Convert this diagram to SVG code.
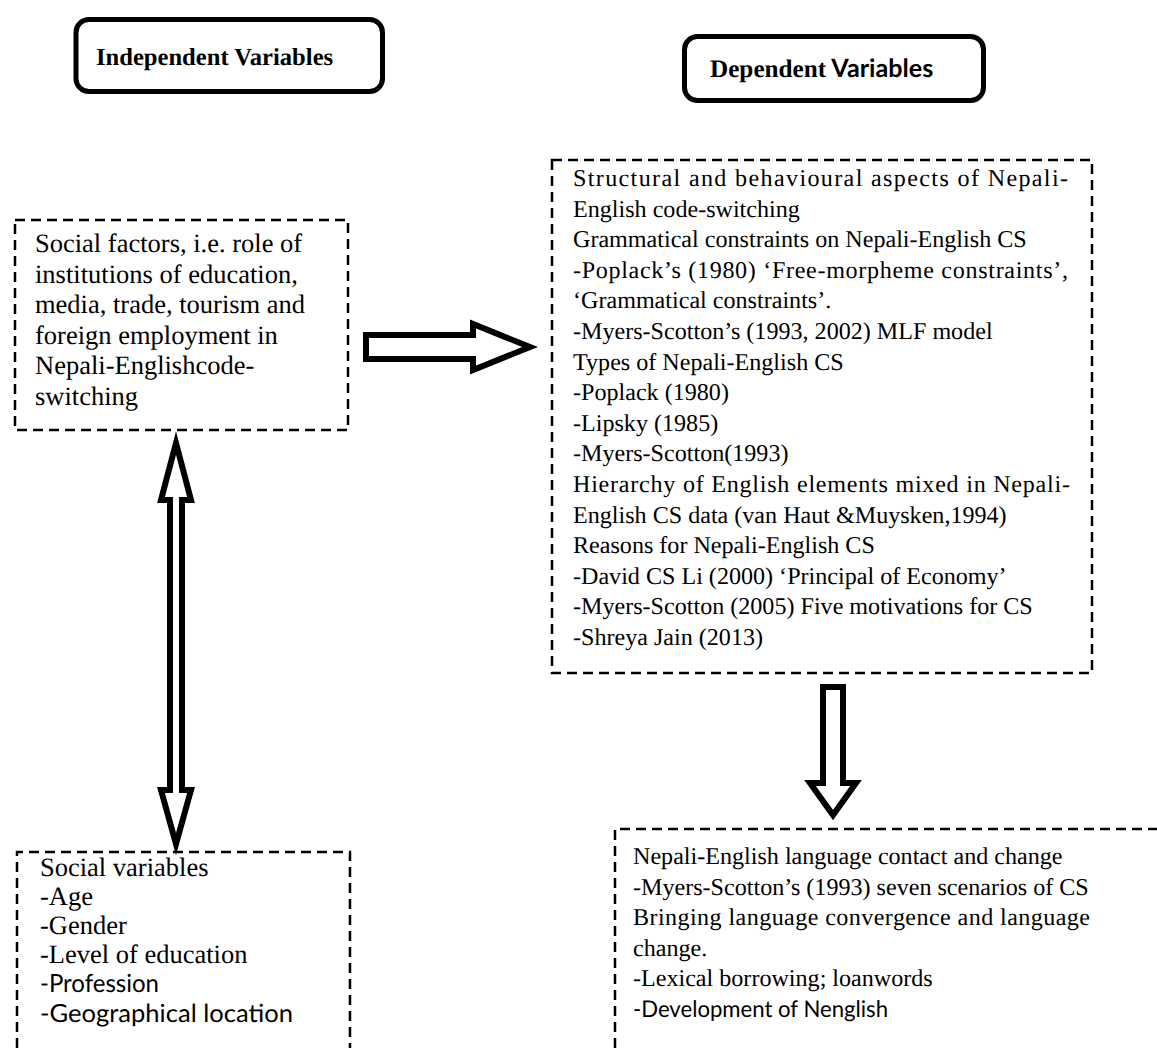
<svg xmlns="http://www.w3.org/2000/svg" width="1157" height="1048" viewBox="0 0 1157 1048">
<style>
text{text-rendering:geometricPrecision}
.hd{fill:#fff;stroke:#000;stroke-width:5}
.dash{fill:none;stroke:#000;stroke-width:2.5;stroke-dasharray:10 6}
.arr{fill:#fff;stroke:#000;stroke-width:6;stroke-linejoin:miter;stroke-miterlimit:10}
.t{font-family:"Liberation Serif","Times New Roman",serif;fill:#000}
.s{font-family:Lato,"Liberation Sans",sans-serif;fill:#000}
.r{font-size:24.1px}
.l{font-size:26.5px}
.b{font-weight:bold}
</style>
<rect width="1157" height="1048" fill="#fff"/>
<g id="independent-heading">
<rect class="hd" x="76" y="19.5" width="306.5" height="72" rx="13"/>
<text class="t b" x="96" y="65" font-size="24.6">Independent Variables</text>
</g>
<g id="dependent-heading">
<rect class="hd" x="684.5" y="36.5" width="299" height="64" rx="13"/>
<text x="710" y="77" font-size="25.2"><tspan class="t b">Dependent</tspan><tspan class="s b"> Variables</tspan></text>
</g>
<g id="social-factors">
<rect class="dash" x="15" y="220" width="333" height="210"/>
<text class="t l" x="35" y="252">Social factors, i.e. role of</text>
<text class="t l" x="35" y="282.6">institutions of education,</text>
<text class="t l" x="35" y="313.2">media, trade, tourism and</text>
<text class="t l" x="35" y="343.8">foreign employment in</text>
<text class="t l" x="35" y="374.4">Nepali-Englishcode-</text>
<text class="t l" x="35" y="405">switching</text>
</g>
<g id="dependent-aspects">
<rect class="dash" x="552" y="160" width="540" height="513"/>
<text class="t r" x="573" y="186" textLength="495" lengthAdjust="spacing">Structural and behavioural aspects of Nepali-</text>
<text class="t r" x="573" y="216.6">English code-switching</text>
<text class="t r" x="573" y="247.2">Grammatical constraints on Nepali-English CS</text>
<text class="t r" x="573" y="277.8" textLength="495" lengthAdjust="spacing">-Poplack’s (1980) ‘Free-morpheme constraints’,</text>
<text class="t r" x="573" y="308.4">‘Grammatical constraints’.</text>
<text class="t r" x="573" y="339">-Myers-Scotton’s (1993, 2002) MLF model</text>
<text class="t r" x="573" y="369.6">Types of Nepali-English CS</text>
<text class="t r" x="573" y="400.2">-Poplack (1980)</text>
<text class="t r" x="573" y="430.8">-Lipsky (1985)</text>
<text class="t r" x="573" y="461.4">-Myers-Scotton(1993)</text>
<text class="t r" x="573" y="492" textLength="497" lengthAdjust="spacing">Hierarchy of English elements mixed in Nepali-</text>
<text class="t r" x="573" y="522.6">English CS data (van Haut &amp;Muysken,1994)</text>
<text class="t r" x="573" y="553.2">Reasons for Nepali-English CS</text>
<text class="t r" x="573" y="583.8">-David CS Li (2000) ‘Principal of Economy’</text>
<text class="t r" x="573" y="614.4">-Myers-Scotton (2005) Five motivations for CS</text>
<text class="t r" x="573" y="645">-Shreya Jain (2013)</text>
</g>
<g id="social-variables">
<path class="dash" d="M17,1048 V852 H350 V1048"/>
<text class="t l" x="40" y="876">Social variables</text>
<text class="t l" x="40" y="905">-Age</text>
<text class="t l" x="40" y="934">-Gender</text>
<text class="t l" x="40" y="963">-Level of education</text>
<text class="s" x="40" y="992" font-size="25" textLength="119" lengthAdjust="spacingAndGlyphs">-Profession</text>
<text class="s" x="40" y="1021.5" font-size="25" textLength="253" lengthAdjust="spacingAndGlyphs">-Geographical location</text>
</g>
<g id="language-contact">
<path class="dash" d="M615,1048 V829 H1157"/>
<text class="t r" x="633" y="864">Nepali-English language contact and change</text>
<text class="t r" x="633" y="895">-Myers-Scotton’s (1993) seven scenarios of CS</text>
<text class="t r" x="633" y="925" textLength="457" lengthAdjust="spacing">Bringing language convergence and language</text>
<text class="t r" x="633" y="956">change.</text>
<text class="t r" x="633" y="986">-Lexical borrowing; loanwords</text>
<text class="s" x="633" y="1017" font-size="23" textLength="255" lengthAdjust="spacingAndGlyphs">-Development of Nenglish</text>
</g>
<g id="connectors">
<path class="arr" d="M366,335 H473 V324 L530,347 L473,370 V359 H366 Z"/>
<path class="arr" d="M176,443 L191,500 H182 V790 H191 L176,844 L161,790 H170 V500 H161 Z"/>
<path class="arr" d="M823,687 H843 V783 H856 L833,815 L810,783 H823 Z"/>
</g>
</svg>
